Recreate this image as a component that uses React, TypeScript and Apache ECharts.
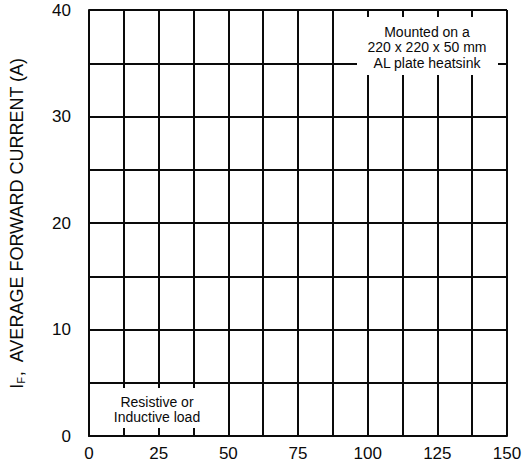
import React, { useEffect, useRef } from "react";
import * as echarts from "echarts";

const xTicks = [0, 25, 50, 75, 100, 125, 150];
const yTicks = [0, 10, 20, 30, 40];
const xRange = [0, 150];
const yRange = [0, 40];
const xGridStep = 12.5;
const yGridStep = 5;
const noteTop = ["Mounted on a", "220 x 220 x 50 mm", "AL plate heatsink"];
const noteBottom = ["Resistive or", "Inductive load"];

const FONT = "'Liberation Sans', Arial, Helvetica, sans-serif";
const INK = "#0a0a0a";

export default function App() {
  const ref = useRef<HTMLDivElement>(null);
  useEffect(() => {
    if (!ref.current) return;
    const chart = echarts.init(ref.current, null, { renderer: "svg" });
    chart.setOption({
      animation: false,
      backgroundColor: "#fff",
      grid: { left: 87, right: 24, top: 10, bottom: 35, containLabel: false },
      xAxis: {
        type: "value",
        min: xRange[0],
        max: xRange[1],
        interval: xGridStep,
        axisLine: { show: true, onZero: false, lineStyle: { color: INK, width: 2 } },
        axisTick: { show: false },
        splitLine: { show: true, lineStyle: { color: INK, width: 2 } },
        axisLabel: {
          margin: 9,
          color: INK,
          fontSize: 17,
          fontFamily: FONT,
          formatter: (v: number) => (xTicks.includes(v) ? String(v) : ""),
        },
      },
      yAxis: {
        type: "value",
        min: yRange[0],
        max: yRange[1],
        interval: yGridStep,
        name: "{i|I}{sub|F}{t|,  AVERAGE FORWARD CURRENT (A)}",
        nameLocation: "middle",
        nameGap: 63,
        nameTextStyle: {
          color: INK,
          fontFamily: FONT,
          rich: {
            i: { fontSize: 18, fontFamily: FONT, color: INK },
            sub: { fontSize: 11, fontFamily: FONT, color: INK, verticalAlign: "bottom", padding: [7, 0, 0, 0] },
            t: { fontSize: 18, fontFamily: FONT, color: INK },
          },
        },
        axisLine: { show: true, lineStyle: { color: INK, width: 2 } },
        axisTick: { show: false },
        splitLine: { show: true, lineStyle: { color: INK, width: 2 } },
        axisLabel: {
          margin: 18,
          color: INK,
          fontSize: 17,
          fontFamily: FONT,
          formatter: (v: number) => (yTicks.includes(v) ? String(v) : ""),
        },
      },
      series: [{ type: "line", data: [], silent: true }],
      graphic: [
        { type: "rect", z: 100, shape: { x: 357, y: 17, width: 141, height: 58 }, style: { fill: "#fff" } },
        {
          type: "text",
          z: 101,
          x: 427,
          y: 47,
          style: {
            text: noteTop.join("\n"),
            fontSize: 14,
            lineHeight: 15.5,
            fontFamily: FONT,
            fill: INK,
            align: "center",
            verticalAlign: "middle",
          },
        },
        { type: "rect", z: 100, shape: { x: 95, y: 388, width: 125, height: 40 }, style: { fill: "#fff" } },
        {
          type: "text",
          z: 101,
          x: 157,
          y: 409.5,
          style: {
            text: noteBottom.join("\n"),
            fontSize: 14,
            lineHeight: 15.5,
            fontFamily: FONT,
            fill: INK,
            align: "center",
            verticalAlign: "middle",
          },
        },
      ],
    });
    return () => chart.dispose();
  }, []);
  return (
    <div
      ref={ref}
      style={{ position: "fixed", left: 0, top: 0, width: 531, height: 471, background: "#fff" }}
    />
  );
}
